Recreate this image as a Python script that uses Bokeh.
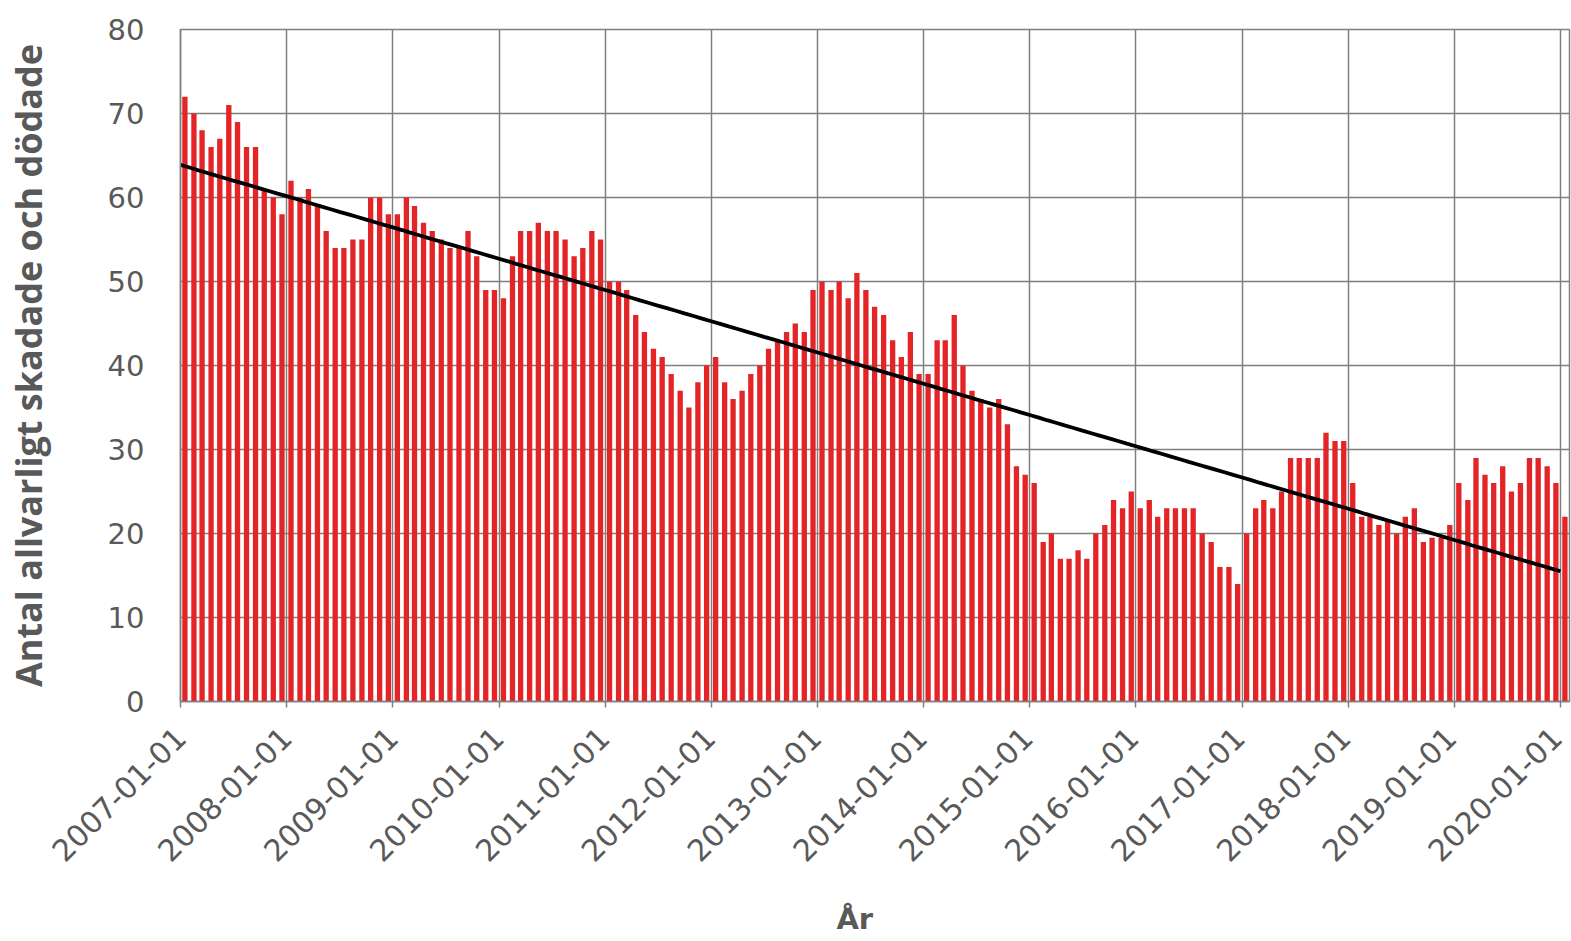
import numpy as np
from datetime import datetime, timedelta
from bokeh.plotting import figure
from bokeh.models import FixedTicker, ColumnDataSource, Range1d, DatetimeAxis
from bokeh.embed import file_html
from bokeh.resources import INLINE

# ---- data (monthly values) ----
tick_years = [2007, 2008, 2009, 2010, 2011, 2012, 2013, 2014, 2015, 2016, 2017, 2018, 2019, 2020]
tick_labels = ["2007-01-01", "2008-01-01", "2009-01-01", "2010-01-01", "2011-01-01",
               "2012-01-01", "2013-01-01", "2014-01-01", "2015-01-01", "2016-01-01",
               "2017-01-01", "2018-01-01", "2019-01-01", "2020-01-01"]
y_ticks = [0, 10, 20, 30, 40, 50, 60, 70, 80]

v2007 = [72, 70, 68, 66, 67, 71, 69, 66, 66, 61, 60, 58]
v2008 = [62, 60, 61, 59, 56, 54, 54, 55, 55, 60, 60, 58]
v2009 = [58, 60, 59, 57, 56, 55, 54, 54, 56, 53, 49, 49]
v2010 = [48, 53, 56, 56, 57, 56, 56, 55, 53, 54, 56, 55]
v2011 = [50, 50, 49, 46, 44, 42, 41, 39, 37, 35, 38, 40]
v2012 = [41, 38, 36, 37, 39, 40, 42, 43, 44, 45, 44, 49]
v2013 = [50, 49, 50, 48, 51, 49, 47, 46, 43, 41, 44, 39]
v2014 = [39, 43, 43, 46, 40, 37, 36, 35, 36, 33, 28, 27]
v2015 = [26, 19, 20, 17, 17, 18, 17, 20, 21, 24, 23, 25]
v2016 = [23, 24, 22, 23, 23, 23, 23, 20, 19, 16, 16, 14]
v2017 = [20, 23, 24, 23, 25, 29, 29, 29, 29, 32, 31, 31]
v2018 = [26, 22, 22, 21, 21.5, 20, 22, 23, 19, 19.5, 19.5, 21]
v2019 = [26, 24, 29, 27, 26, 28, 25, 26, 29, 29, 28, 26]
v2020 = [22]

values = (v2007 + v2008 + v2009 + v2010 + v2011 + v2012 + v2013 + v2014 +
          v2015 + v2016 + v2017 + v2018 + v2019 + v2020)
n = len(values)
months = [datetime(2007 + i // 12, i % 12 + 1, 1) for i in range(n)]
bar_x = [m + timedelta(days=15.2) for m in months]

# linear trend (least squares)
idx = np.arange(n)
slope, intercept = np.polyfit(idx, values, 1)
trend = intercept + slope * idx

TXT = "#595959"
GRID = "#7f7f7f"

W, H = 1571, 941
BL, BR, BT, BB = 179, 2, 29, 240
x0, x1 = datetime(2007, 1, 1), datetime(2020, 2, 1)
x0_ms, x1_ms = x0.timestamp() * 1000, x1.timestamp() * 1000
span_ms = x1_ms - x0_ms

p = figure(width=W, height=H, x_axis_type="datetime",
           x_range=Range1d(x0, x1), y_range=Range1d(0, 80),
           output_backend="svg", toolbar_location=None,
           min_border_left=BL, min_border_right=BR, min_border_top=BT, min_border_bottom=BB)
p.background_fill_color = "white"
p.border_fill_color = "white"
p.outline_line_color = GRID
p.outline_line_width = 1.5

src = ColumnDataSource(dict(x=bar_x, v=values))
p.vbar(x="x", top="v", bottom=0, width=0.6 * 30.44 * 86400000, source=src,
       fill_color="#E42527", line_color=None)
p.line(months, trend, line_color="black", line_width=3.8)

year_ms = [datetime(y, 1, 1).timestamp() * 1000 for y in tick_years]

# main x axis: tick marks only
p.xaxis.ticker = FixedTicker(ticks=year_ms)
p.xaxis.major_label_overrides = {t: "" for t in year_ms}
p.xaxis.major_label_text_font_size = "1px"
p.xaxis.major_label_standoff = 0
p.xaxis.major_tick_out = 6
p.xaxis.major_tick_in = 0
p.xaxis.minor_tick_line_color = None
p.xaxis.major_tick_line_color = GRID
p.xaxis.axis_line_color = GRID
p.xaxis.axis_line_width = 1.5
p.xaxis.major_tick_line_width = 1.5

# second x axis (labels only); its range is stretched slightly so the later
# labels sit a few pixels left of their tick and the last one stays inside
p.extra_x_ranges = {"lab": Range1d(x0_ms, x1_ms + span_ms * 4 / 1377)}
ax2 = DatetimeAxis(x_range_name="lab", ticker=FixedTicker(ticks=year_ms),
                   major_label_overrides={t: s for t, s in zip(year_ms, tick_labels)})
ax2.major_label_orientation = np.pi / 4
ax2.major_label_standoff = 19
ax2.major_tick_line_color = None
ax2.minor_tick_line_color = None
ax2.axis_line_color = None
ax2.major_label_text_font = "DejaVu Sans"
ax2.major_label_text_font_size = "30px"
ax2.major_label_text_color = TXT
p.add_layout(ax2, "below")

# third axis only carries the "År" title (trailing no-break spaces move the
# centred word a little to the left, as in the reference)
ax3 = DatetimeAxis(ticker=FixedTicker(ticks=[]))
ax3.axis_line_color = None
ax3.major_tick_line_color = None
ax3.minor_tick_line_color = None
ax3.major_label_standoff = 0
ax3.axis_label = "År" + "\u00a0" * 4
ax3.axis_label_standoff = 27
ax3.axis_label_text_font = "DejaVu Sans"
ax3.axis_label_text_font_style = "bold"
ax3.axis_label_text_font_size = "29px"
ax3.axis_label_text_color = TXT
p.add_layout(ax3, "below")

p.yaxis.ticker = FixedTicker(ticks=y_ticks)
p.yaxis.major_tick_line_color = None
p.yaxis.minor_tick_line_color = None
p.yaxis.axis_line_color = GRID
p.yaxis.axis_line_width = 1.5
p.yaxis.major_label_standoff = 30
p.yaxis.major_label_text_font = "DejaVu Sans"
p.yaxis.major_label_text_font_size = "29px"
p.yaxis.major_label_text_color = TXT
p.yaxis.axis_label = "Antal allvarligt skadade och dödade"
p.yaxis.axis_label_text_font = "Open Sans"
p.yaxis.axis_label_text_font_style = "bold"
p.yaxis.axis_label_text_font_size = "36px"
p.yaxis.axis_label_text_color = TXT
p.yaxis.axis_label_standoff = 52

p.xgrid.ticker = FixedTicker(ticks=year_ms)
p.ygrid.ticker = FixedTicker(ticks=y_ticks)
for g in (p.xgrid, p.ygrid):
    g.grid_line_color = GRID
    g.grid_line_width = 1.5

open("out.html", "w").write(file_html(p, INLINE))
